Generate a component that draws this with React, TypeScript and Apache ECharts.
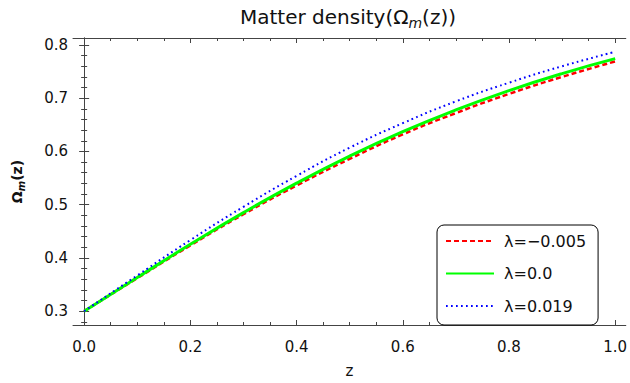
import React, { useEffect, useRef } from "react";
import * as echarts from "echarts";

const zValues = [0, 0.1, 0.2, 0.3, 0.4, 0.5, 0.6, 0.7, 0.8, 0.9, 1.0];
const omegaNeg = [0.3, 0.362, 0.4235, 0.482, 0.536, 0.586, 0.632, 0.672, 0.708, 0.74, 0.769];
const omegaZero = [0.3, 0.3632, 0.4255, 0.485, 0.5404, 0.5912, 0.6371, 0.678, 0.7142, 0.7462, 0.7742];
const omegaPos = [0.3, 0.367, 0.4335, 0.496, 0.554, 0.607, 0.653, 0.694, 0.729, 0.76, 0.787];

const seriesNames = ["λ=−0.005", "λ=0.0", "λ=0.019"];

const xMajor = [0, 0.2, 0.4, 0.6, 0.8, 1.0];
const xMinor = [0.05, 0.1, 0.15, 0.25, 0.3, 0.35, 0.45, 0.5, 0.55, 0.65, 0.7, 0.75, 0.85, 0.9, 0.95];
const yMajor = [0.3, 0.4, 0.5, 0.6, 0.7, 0.8];
const yMinor = [
  0.28, 0.32, 0.34, 0.36, 0.38, 0.42, 0.44, 0.46, 0.48, 0.52, 0.54, 0.56, 0.58,
  0.62, 0.64, 0.66, 0.68, 0.72, 0.74, 0.76, 0.78,
];

const X_MIN = -0.021;
const X_MAX = 1.02;
const Y_MIN = 0.274;
const Y_MAX = 0.813;

const FRAME = "#444";
const FONT = "DejaVu Sans";

function pairs(ys: number[]) {
  return zValues.map((z, i) => [z, ys[i]]);
}

export default function App() {
  const ref = useRef<HTMLDivElement>(null);
  useEffect(() => {
    if (!ref.current) return;
    const chart = echarts.init(ref.current, null, { renderer: "svg" });

    const xAxisBase = (pos: "bottom" | "top", major: boolean, withLabels: boolean) => ({
      type: "value",
      position: pos,
      min: X_MIN,
      max: X_MAX,
      axisLine: { show: major, lineStyle: { color: FRAME, width: 1 } },
      axisTick: {
        show: true,
        inside: true,
        length: major ? 5 : 3,
        customValues: major ? xMajor : xMinor,
        lineStyle: { color: FRAME, width: 1 },
      },
      axisLabel: withLabels
        ? {
            show: true,
            customValues: xMajor,
            formatter: (v: number) => v.toFixed(1),
            color: "#111",
            fontFamily: FONT,
            fontSize: 15,
            margin: 14,
          }
        : { show: false },
      splitLine: { show: false },
    });

    const yAxisBase = (pos: "left" | "right", major: boolean, withLabels: boolean) => ({
      type: "value",
      position: pos,
      min: Y_MIN,
      max: Y_MAX,
      axisLine: { show: major, lineStyle: { color: FRAME, width: 1 } },
      axisTick: {
        show: true,
        inside: true,
        length: major ? 5 : 3,
        customValues: major ? yMajor : yMinor,
        lineStyle: { color: FRAME, width: 1 },
      },
      axisLabel: withLabels
        ? {
            show: true,
            customValues: yMajor,
            formatter: (v: number) => v.toFixed(1),
            color: "#111",
            fontFamily: FONT,
            fontSize: 15,
            margin: 5,
          }
        : { show: false },
      splitLine: { show: false },
    });

    const xMain: any = {
      ...xAxisBase("bottom", true, true),
      name: "z",
      nameLocation: "middle",
      nameGap: 38,
      nameTextStyle: { fontFamily: FONT, fontSize: 15, color: "#111" },
    };
    const yMain: any = {
      ...yAxisBase("left", true, true),
      name: "Ω{m|m}(z)",
      nameLocation: "middle",
      nameRotate: 90,
      nameGap: 47,
      nameTextStyle: {
        fontFamily: FONT,
        fontSize: 14,
        fontWeight: "bold",
        color: "#111",
        lineHeight: 18,
        rich: {
          m: {
            fontFamily: FONT,
            fontSize: 10,
            fontStyle: "italic",
            fontWeight: "bold",
            color: "#111",
            lineHeight: 10,
            verticalAlign: "bottom",
          },
        },
      },
    };

    const option: any = {
      animation: false,
      backgroundColor: "#fff",
      grid: { left: 67.5, right: 1.5, top: 38, bottom: 52, containLabel: false },
      xAxis: [
        xMain,
        xAxisBase("bottom", false, false),
        xAxisBase("top", true, false),
        xAxisBase("top", false, false),
      ],
      yAxis: [
        yMain,
        yAxisBase("left", false, false),
        yAxisBase("right", true, false),
        yAxisBase("right", false, false),
      ],
      graphic: [
        {
          type: "text",
          x: 348,
          y: 17,
          style: {
            text: "Matter density(Ω{m|m}(z))",
            fontFamily: FONT,
            fontSize: 20,
            fill: "#111",
            align: "center",
            verticalAlign: "middle",
            lineHeight: 25,
            rich: {
              m: {
                fontFamily: FONT,
                fontSize: 14,
                fontStyle: "italic",
                fill: "#111",
                lineHeight: 14,
                verticalAlign: "bottom",
              },
            },
          },
        },
      ],
      legend: {
        orient: "vertical",
        left: 437,
        top: 225,
        padding: [8, 12, 11, 8],
        itemWidth: 48,
        itemHeight: 14,
        itemGap: 16.5,
        borderColor: "#000",
        borderWidth: 1,
        borderRadius: 7,
        backgroundColor: "#fff",
        itemStyle: { opacity: 0 },
        textStyle: {
          fontFamily: FONT,
          fontSize: 16,
          color: "#111",
          lineHeight: 14,
          padding: [0, 0, 0, 5],
        },
        data: seriesNames,
      },
      series: [
        {
          name: seriesNames[0],
          type: "line",
          data: pairs(omegaNeg),
          smooth: true,
          symbol: "none",
          xAxisIndex: 0,
          yAxisIndex: 0,
          lineStyle: { color: "#ff0000", width: 2.5, type: [5, 3] },
          itemStyle: { color: "#ff0000" },
          z: 2,
        },
        {
          name: seriesNames[1],
          type: "line",
          data: pairs(omegaZero),
          smooth: true,
          symbol: "none",
          xAxisIndex: 0,
          yAxisIndex: 0,
          lineStyle: { color: "#00ff00", width: 3, type: "solid" },
          itemStyle: { color: "#00ff00" },
          z: 3,
        },
        {
          name: seriesNames[2],
          type: "line",
          data: pairs(omegaPos),
          smooth: true,
          symbol: "none",
          xAxisIndex: 0,
          yAxisIndex: 0,
          lineStyle: { color: "#0000ff", width: 2, type: [1.7, 3.3] },
          itemStyle: { color: "#0000ff" },
          z: 4,
        },
      ],
    };
    chart.setOption(option);
    return () => chart.dispose();
  }, []);
  return (
    <div
      ref={ref}
      style={{ position: "absolute", left: 0, top: 0, width: 630, height: 383 }}
    />
  );
}
